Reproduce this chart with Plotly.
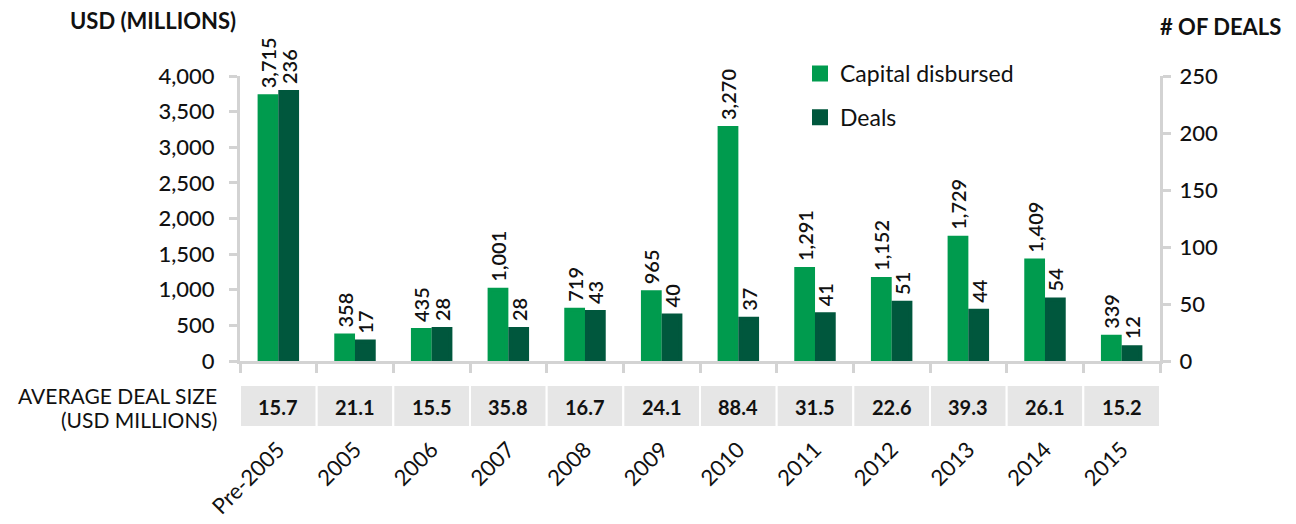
import plotly.graph_objects as go

categories = ["Pre-2005", "2005", "2006", "2007", "2008", "2009", "2010",
              "2011", "2012", "2013", "2014", "2015"]
capital = [3715, 358, 435, 1001, 719, 965, 3270, 1291, 1152, 1729, 1409, 339]
deals = [236, 17, 28, 28, 43, 40, 37, 41, 51, 44, 54, 12]
avg_size = [15.7, 21.1, 15.5, 35.8, 16.7, 24.1, 88.4, 31.5, 22.6, 39.3, 26.1, 15.2]

LIGHT = "#009B4E"
DARK = "#00573D"
AXIS = "#d3d3d3"
FONT = "Lato"

# page has an 8px body margin; plot area in screen px: x 240..1160, y 76..361
W, H = 1288, 516
L, T = 232, 68
PW, PH = 920, 285
R = W - L - PW
B = H - T - PH


def py(sy):
    return (361 - sy) / PH


def pxx(sx):
    return (sx - 240) / PW


NB = "\u00a0"

fig = go.Figure()
fig.add_trace(go.Bar(
    x=categories, y=capital, name="Capital disbursed", yaxis="y",
    offsetgroup="1", legendgroup="a",
    marker=dict(color=LIGHT, line=dict(width=4, color=LIGHT)),
    text=[NB + f"{v:,}" for v in capital], textposition="outside", textangle=-90,
    textfont=dict(family=FONT, size=20, color="#111", weight=600),
    constraintext="none", cliponaxis=False,
))
fig.add_trace(go.Bar(
    x=categories, y=deals, name="Deals", yaxis="y2",
    offsetgroup="2", legendgroup="b",
    marker=dict(color=DARK, line=dict(width=4, color=DARK)),
    text=[NB + f"{v:,}" for v in deals], textposition="outside", textangle=-90,
    textfont=dict(family=FONT, size=20, color="#111", weight=600),
    constraintext="none", cliponaxis=False,
))

shapes = []
annotations = []
for i, v in enumerate(avg_size):
    shapes.append(dict(type="rect", xref="x", yref="paper",
                       x0=i - 0.5, x1=i + 0.5, y0=py(427), y1=py(385),
                       fillcolor="#e6e6e6", line=dict(color="white", width=2),
                       layer="below"))
    annotations.append(dict(x=i, xref="x", y=py(407), yref="paper",
                            text=f"{v:.1f}", showarrow=False,
                            font=dict(family=FONT, size=20, color="#111", weight="bold"),
                            xanchor="center", yanchor="middle"))

annotations += [
    dict(x=pxx(238), y=py(20), xref="paper", yref="paper", text="USD (MILLIONS)",
         showarrow=False, xanchor="right", yanchor="middle",
         font=dict(family=FONT, size=22, color="#111", weight="bold")),
    dict(x=pxx(1158), y=py(27), xref="paper", yref="paper", text="# OF DEALS",
         showarrow=False, xanchor="left", yanchor="middle",
         font=dict(family=FONT, size=22, color="#111", weight="bold")),
    dict(x=pxx(219), y=py(395), xref="paper", yref="paper", text="AVERAGE DEAL SIZE",
         showarrow=False, xanchor="right", yanchor="middle",
         font=dict(family=FONT, size=21, color="#111")),
    dict(x=pxx(219), y=py(419), xref="paper", yref="paper", text="(USD MILLIONS)",
         showarrow=False, xanchor="right", yanchor="middle",
         font=dict(family=FONT, size=21, color="#111")),
]

fig.update_layout(
    width=W, height=H,
    margin=dict(l=L, r=R, t=T, b=B, pad=0, autoexpand=False),
    plot_bgcolor="white", paper_bgcolor="white",
    barmode="group", bargap=0.46, bargroupgap=0.19,
    font=dict(family=FONT, size=20, color="#111"),
    showlegend=True,
    legend=dict(x=pxx(800), y=py(52), xanchor="left", yanchor="top",
                font=dict(family=FONT, size=23, color="#111"),
                bgcolor="rgba(0,0,0,0)", tracegroupgap=11,
                traceorder="grouped"),
    xaxis=dict(type="category", showgrid=False, zeroline=False,
               showline=True, linecolor=AXIS, linewidth=3,
               ticks="outside", tickson="boundaries", ticklen=9,
               tickcolor=AXIS, tickwidth=3, tickangle=-45,
               ticklabelstandoff=64,
               tickfont=dict(family=FONT, size=22, color="#111"),
               range=[-0.5, 11.5]),
    yaxis=dict(range=[0, 4000], dtick=500, tickformat=",", showgrid=False,
               zeroline=False, showline=True, linecolor=AXIS, linewidth=3,
               ticks="outside", ticklen=8, tickcolor=AXIS, tickwidth=3,
               ticklabelstandoff=10,
               tickfont=dict(family=FONT, size=22, color="#111", weight=500)),
    yaxis2=dict(range=[0, 250], dtick=50, overlaying="y", side="right",
                showgrid=False, zeroline=False, showline=True, linecolor=AXIS,
                linewidth=3, ticks="outside", ticklen=8, tickcolor=AXIS,
                tickwidth=3, ticklabelstandoff=4,
                tickfont=dict(family=FONT, size=22, color="#111", weight=500)),
    shapes=shapes,
    annotations=annotations,
)

fig.write_html("out.html")
